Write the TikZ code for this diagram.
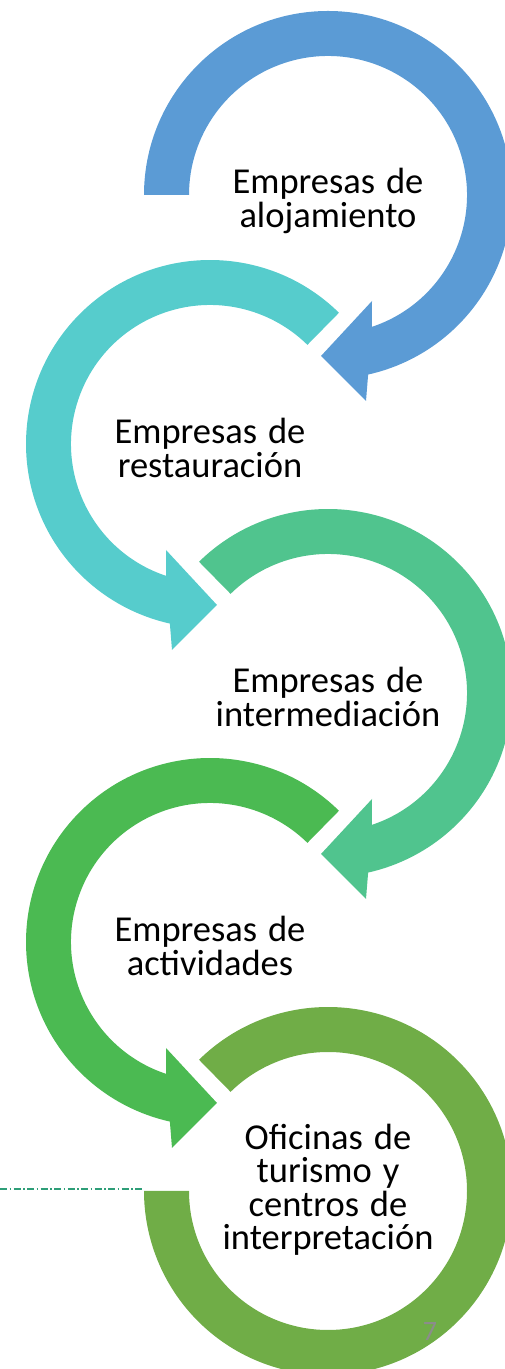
\documentclass[tikz,border=0pt]{standalone}
\usepackage{fontspec}
\setmainfont{Carlito}
\definecolor{arrblue}{RGB}{91,155,213}
\definecolor{arrteal}{RGB}{86,204,204}
\definecolor{arrmint}{RGB}{80,196,142}
\definecolor{arrgreen}{RGB}{75,186,82}
\definecolor{arrolive}{RGB}{112,173,71}
\definecolor{rulegreen}{RGB}{46,158,120}
\newcommand\lblfont{\fontsize{36.5}{33.5}\selectfont\spaceskip=0.3em plus 0.1em\relax}
\tikzset{
  lbl/.style={align=center, font=\lblfont, text=black},
  pagenum/.style={font=\fontsize{28}{28}\selectfont, text=black!45}
}

\begin{document}
\begin{tikzpicture}[x=1pt,y=1pt]
  \def\cirarrow#1{    \fill (#1:184) arc[start angle=#1, end angle=-77.4, radius=184]
      -- (38,-206) -- (-7,-161) -- (44,-106)
      -- (-71.6:139) arc[start angle=-71.6, end angle=#1, radius=139] -- cycle;
}
  \useasboundingbox (0,0) rectangle (505,1369);
  \clip (0,0) rectangle (505,1369);
  \coordinate (c1) at (328,1174);
  \coordinate (c2) at (210,925);
  \coordinate (c3) at (328,676);
  \coordinate (c4) at (210,427);
  \coordinate (c5) at (328,178);
  \begin{scope}[shift={(c1)}, arrblue]
    \cirarrow{180}
  \end{scope}
  \begin{scope}[shift={(c2)}, xscale=-1, arrteal]
    \cirarrow{134.5}
  \end{scope}
  \begin{scope}[shift={(c3)}, arrmint]
    \cirarrow{134.5}
  \end{scope}
  \begin{scope}[shift={(c4)}, xscale=-1, arrgreen]
    \cirarrow{134.5}
  \end{scope}
  \begin{scope}[shift={(c5)}, arrolive]
    \fill (134.5:184) arc[start angle=134.5, end angle=-180, radius=184]
      -- (-180:139) arc[start angle=-180, end angle=134.5, radius=139] -- cycle;
  \end{scope}
  \node[lbl] (aloj) at ([yshift=-6pt]c1) {Empresas de\\alojamiento};
  \node[lbl] (rest) at ([yshift=-4pt]c2) {Empresas de\\restauración};
  \node[lbl] (inter) at ([yshift=-4pt]c3) {Empresas de\\intermediación};
  \node[lbl] (activ) at ([yshift=-4pt]c4) {Empresas de\\actividades};
  \node[lbl] (ofic) at ([yshift=1pt]c5) {Oficinas de\\turismo y\\centros de\\interpretación};
  \node[pagenum] (page) at (430,37) {7};
  % dash-dot rule on the left
  \coordinate (rule-l) at (0,180);
  \coordinate (rule-r) at (143,180);
  \draw[rulegreen, line width=1.2pt, dash pattern=on 7pt off 2.5pt on 1.5pt off 2.5pt] (rule-l) -- (rule-r);
\end{tikzpicture}
\end{document}
